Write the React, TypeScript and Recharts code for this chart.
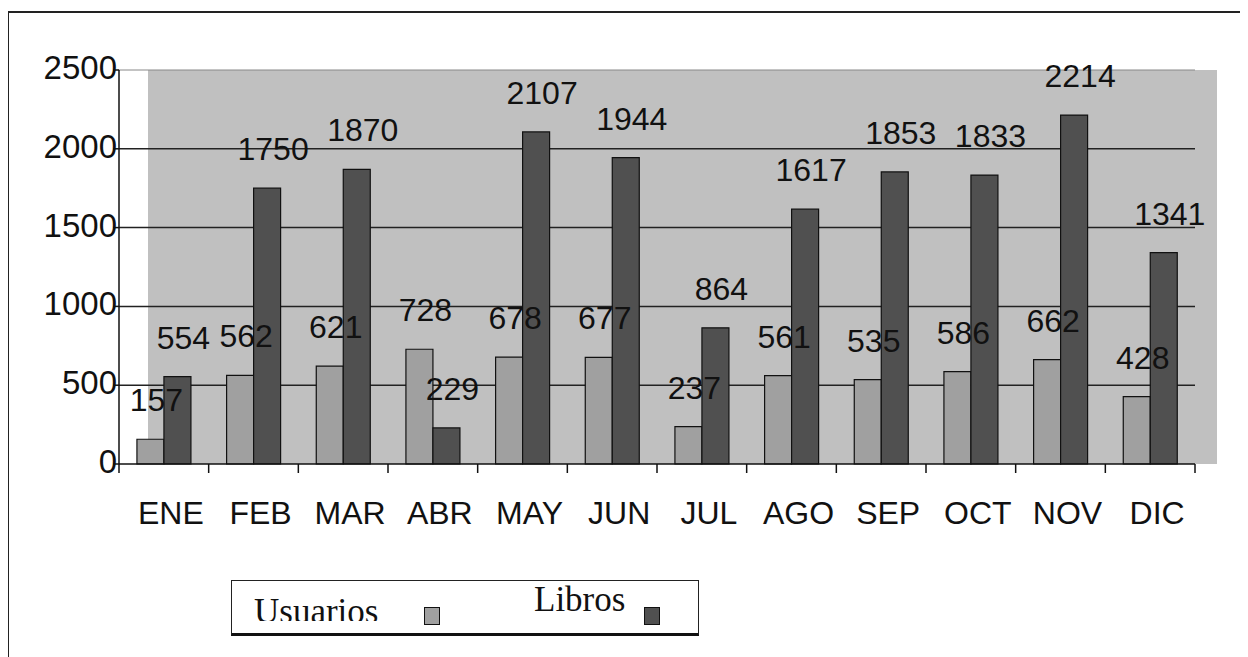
import { BarChart, Bar, XAxis, YAxis, CartesianGrid, ReferenceLine, LabelList } from 'recharts';

const months = ['ENE', 'FEB', 'MAR', 'ABR', 'MAY', 'JUN', 'JUL', 'AGO', 'SEP', 'OCT', 'NOV', 'DIC'];
const usuarios = [157, 562, 621, 728, 678, 677, 237, 561, 535, 586, 662, 428];
const libros = [554, 1750, 1870, 229, 2107, 1944, 864, 1617, 1853, 1833, 2214, 1341];
const yTicks = [0, 500, 1000, 1500, 2000, 2500];
const seriesNames = ['Usuarios', 'Libros'];

const data = months.map((m, i) => ({ name: m, usuarios: usuarios[i], libros: libros[i] }));

const W = 1240;
const H = 649;
// plot box inside the chart (container coords)
const PL = 111;
const PR = 1187;
const PT = 62;
const PB = 456;
const BAND = (PR - PL) / months.length;
const FONT = '"Liberation Sans", Arial, sans-serif';

const XTick = (props: any) => {
    const { x, y, payload, index } = props;
    const left = x - BAND / 2;
    return (
        <g>
            <line x1={left} y1={y} x2={left} y2={y + 9} stroke="#111" strokeWidth={1.5} />
            {index === months.length - 1 && (
                <line x1={x + BAND / 2} y1={y} x2={x + BAND / 2} y2={y + 9} stroke="#111" strokeWidth={1.5} />
            )}
            <text x={x + 7} y={y + 60} textAnchor="middle" fontSize={32} fill="#111" fontFamily={FONT}>
                {payload.value}
            </text>
        </g>
    );
};

const YTick = (props: any) => {
    const { x, y, payload } = props;
    return (
        <text x={x + 4} y={y + 9} textAnchor="end" fontSize={33} fill="#111" fontFamily={FONT}>
            {payload.value}
        </text>
    );
};

const ValueLabel = (props: any) => {
    const { x, y, width, value } = props;
    return (
        <text x={x + width / 2 + 6} y={y - 28} textAnchor="middle" fontSize={32} fill="#111" fontFamily={FONT}>
            {value}
        </text>
    );
};

export default function App() {
    return (
        <div style={{ position: 'relative', width: W, height: H, overflow: 'hidden', background: '#fff' }}>
            {/* outer frame */}
            <div style={{ position: 'absolute', left: -1, top: 3, width: W + 20, height: H + 20, borderLeft: '2.5px solid #222', borderTop: '2.5px solid #222' }} />
            {/* shifted plot background */}
            <div style={{ position: 'absolute', left: 140, top: PT, width: 1209 - 140, height: PB - PT, background: '#c0c0c0' }} />
            <div style={{ position: 'absolute', left: 0, top: 0 }}>
                <BarChart
                    width={W}
                    height={H}
                    data={data}
                    margin={{ top: PT, right: W - PR, left: 0, bottom: H - PB - 60 }}
                    barCategoryGap="20%"
                    barGap={0}
                >
                    <CartesianGrid vertical={false} horizontalValues={[500, 1000, 1500, 2000]} stroke="#222" strokeWidth={1.5} />
                    <ReferenceLine y={2500} stroke="#888" strokeWidth={1} />
                    <XAxis
                        dataKey="name"
                        height={60}
                        stroke="#111"
                        strokeWidth={1.5}
                        tickLine={false}
                        tickSize={0}
                        tickMargin={0}
                        tick={<XTick />}
                        interval={0}
                    />
                    <YAxis
                        width={PL}
                        domain={[0, 2500]}
                        ticks={yTicks}
                        stroke="#111"
                        strokeWidth={1.5}
                        tickSize={6}
                        tickMargin={0}
                        tick={<YTick />}
                        interval={0}
                    />
                    <Bar dataKey="usuarios" name={seriesNames[0]} fill="#a0a0a0" stroke="#111" strokeWidth={1.2} isAnimationActive={false}>
                        <LabelList dataKey="usuarios" content={<ValueLabel />} />
                    </Bar>
                    <Bar dataKey="libros" name={seriesNames[1]} fill="#505050" stroke="#111" strokeWidth={1.2} isAnimationActive={false}>
                        <LabelList dataKey="libros" content={<ValueLabel />} />
                    </Bar>
                </BarChart>
            </div>
            {/* legend */}
            <div
                style={{
                    position: 'absolute',
                    left: 223,
                    top: 572,
                    width: 466,
                    height: 52,
                    border: '1.5px solid #222',
                    borderBottom: '3px solid #111',
                    background: '#fff',
                    fontFamily: '"Liberation Serif", "Times New Roman", serif',
                }}
            >
                <div style={{ position: 'absolute', left: 22, top: 0, height: 40, overflow: 'hidden' }}>
                    <div style={{ fontSize: 35, lineHeight: '34px', marginTop: 14, color: '#111' }}>{seriesNames[0]}</div>
                </div>
                <div style={{ position: 'absolute', left: 192, top: 26, width: 14, height: 16, background: '#a0a0a0', border: '1px solid #111' }} />
                <div style={{ position: 'absolute', left: 302, top: 2, fontSize: 35, lineHeight: '34px', color: '#111' }}>{seriesNames[1]}</div>
                <div style={{ position: 'absolute', left: 412, top: 26, width: 14, height: 16, background: '#505050', border: '1px solid #111' }} />
            </div>
        </div>
    );
}
